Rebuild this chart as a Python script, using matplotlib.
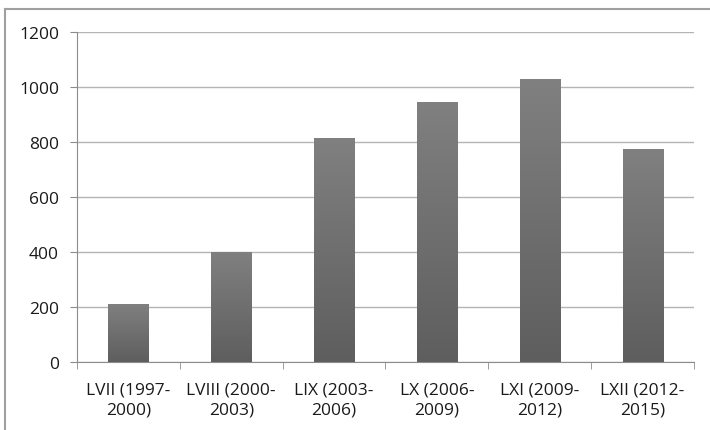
import numpy as np
import matplotlib.pyplot as plt
from matplotlib.patches import Rectangle
from matplotlib.lines import Line2D

categories = ['LVII (1997-\n2000)', 'LVIII (2000-\n2003)', 'LIX (2003-\n2006)',
              'LX (2006-\n2009)', 'LXI (2009-\n2012)', 'LXII (2012-\n2015)']
values = [212, 401, 815, 944, 1029, 774]
yticks = [0, 200, 400, 600, 800, 1000, 1200]

plt.rcParams['font.family'] = ['Open Sans', 'DejaVu Sans']

fig = plt.figure(figsize=(7.1, 4.31), dpi=100)
ax = fig.add_axes([77 / 710, 1 - 363 / 431, 617 / 710, 330 / 431])

x = np.arange(len(categories))
bars = ax.bar(x, values, width=0.39, color='none', zorder=3)

# vertical gradient in each bar, lighter at top
grad = np.linspace(0, 1, 256).reshape(-1, 1)
cmap = plt.matplotlib.colors.LinearSegmentedColormap.from_list('g', ['#5e5e5e', '#808080'])
for b in bars:
    bx, by = b.get_x(), b.get_y()
    bw, bh = b.get_width(), b.get_height()
    im = ax.imshow(grad, extent=[bx, bx + bw, 0, bh], origin='lower', aspect='auto',
                   cmap=cmap, zorder=3)
    im.set_clip_path(Rectangle((bx, by), bw, bh, transform=ax.transData))

ax.set_xlim(-0.5, len(categories) - 0.5)
ax.set_ylim(0, 1200)
ax.set_yticks(yticks)
ax.set_xticks(x)
ax.set_xticklabels(categories, fontsize=12.5, color='#1a1a1a', linespacing=1.3)
ax.tick_params(axis='y', labelsize=12.5, colors='#1a1a1a', length=5, color='#8c8c8c', pad=8)
ax.tick_params(axis='x', length=0, pad=14)
ax.set_xticks(np.arange(-0.5, len(categories)), minor=True)
ax.tick_params(axis='x', which='minor', length=5, color='#8c8c8c')

ax.yaxis.grid(True, color='#b4b4b4', linewidth=1, zorder=0)
ax.set_axisbelow(True)
for s in ['top', 'right']:
    ax.spines[s].set_visible(False)
ax.spines['left'].set_color('#8c8c8c')
ax.spines['bottom'].set_color('#8c8c8c')

# outer chart frame (left and top edges visible)
fig.add_artist(Line2D([5 / 710, 5 / 710], [0, 1 - 10 / 431], color='#a0a0a0', linewidth=1.5))
fig.add_artist(Line2D([5 / 710, 1], [1 - 10 / 431, 1 - 10 / 431], color='#a0a0a0', linewidth=1.5))

fig.savefig('out.png', dpi=100)
